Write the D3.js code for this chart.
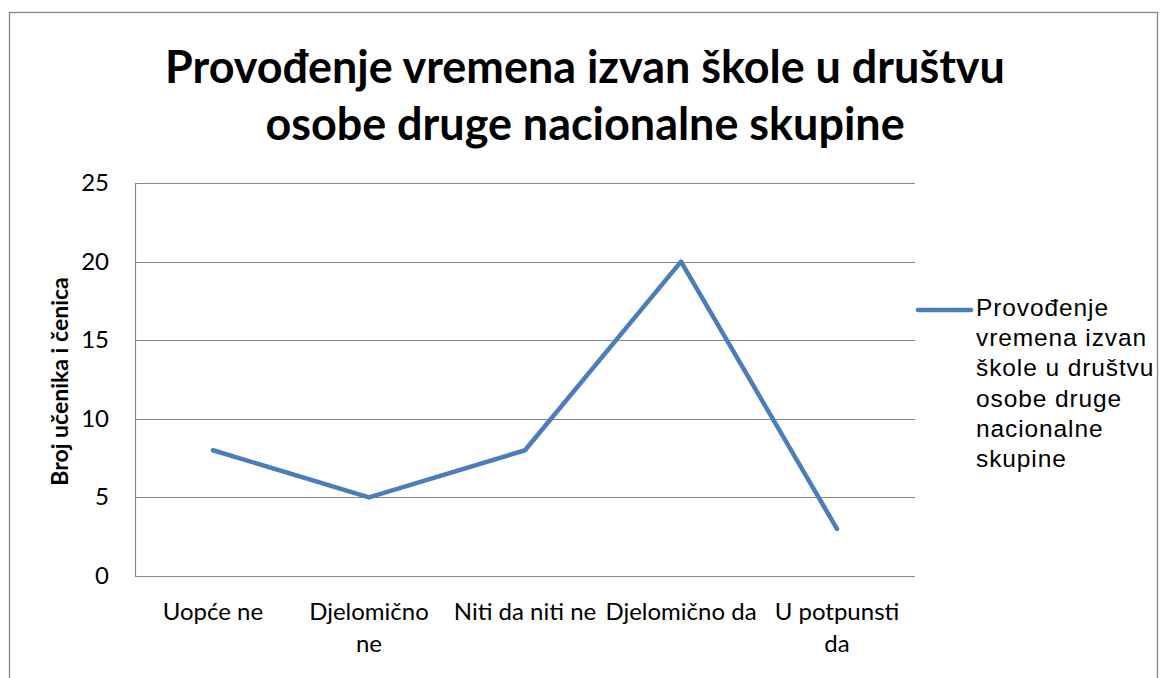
<!DOCTYPE html>
<html>
<head>
<meta charset="utf-8">
<script src="https://cdn.jsdelivr.net/npm/d3@7"></script>
<style>
  body { margin: 0; background: #fff; }
  .linesvg text { font-family: Lato, "Open Sans", sans-serif; }
  .linesvg text.legtext { font-family: "Liberation Sans", Arial, sans-serif; }
</style>
</head>
<body>
<svg class="linesvg"></svg>
<script>
const categories = ['Uopće ne', 'Djelomično ne', 'Niti da niti ne', 'Djelomično da', 'U potpunsti da'];
const xTickLines = [['Uopće ne'], ['Djelomično', 'ne'], ['Niti da niti ne'], ['Djelomično da'], ['U potpunsti', 'da']];
const values = [8, 5, 8, 20, 3];
const yTicks = [0, 5, 10, 15, 20, 25];
const titleLines = ['Provođenje vremena izvan škole u društvu', 'osobe druge nacionalne skupine'];
const seriesName = ['Provođenje', 'vremena izvan', 'škole u društvu', 'osobe druge', 'nacionalne', 'skupine'];
const yTitle = 'Broj učenika i čenica';

const dims = { width: 1163, height: 678 };
const plot = { left: 135, right: 915, top: 183, bottom: 576 };
const lineColor = '#4a7ebb';
const gridColor = '#868686';

const svg = d3.select('.linesvg')
  .attr('width', dims.width)
  .attr('height', dims.height);

// outer chart frame
svg.append('rect')
  .attr('x', 9.5).attr('y', 12.5)
  .attr('width', 1148).attr('height', 700)
  .attr('fill', 'none')
  .attr('stroke', gridColor)
  .attr('stroke-width', 1.3);

// title
const title = svg.append('g');
titleLines.forEach((t, i) => {
  title.append('text')
    .attr('x', 585)
    .attr('y', 83 + i * 57)
    .attr('text-anchor', 'middle')
    .attr('font-weight', 'bold')
    .attr('font-size', '44px')
    .attr('fill', '#000')
    .text(t);
});
// fit title width to ~840px
const tw = title.select('text').node().getComputedTextLength();
title.selectAll('text').attr('font-size', (44 * 840 / tw) + 'px');

const x = d3.scaleBand()
  .domain(categories)
  .range([plot.left, plot.right]);

const y = d3.scaleLinear()
  .domain([0, 25])
  .range([plot.bottom, plot.top]);

// gridlines
svg.append('g')
  .selectAll('line')
  .data(yTicks)
  .enter()
  .append('line')
  .attr('x1', plot.left).attr('x2', plot.right)
  .attr('y1', d => Math.round(y(d)) + 0.5)
  .attr('y2', d => Math.round(y(d)) + 0.5)
  .attr('stroke', gridColor)
  .attr('stroke-width', 1.2);

svg.append('line')
  .attr('x1', plot.left + 0.5).attr('x2', plot.left + 0.5)
  .attr('y1', plot.top).attr('y2', plot.bottom)
  .attr('stroke', gridColor)
  .attr('stroke-width', 1.2);

// y tick labels
svg.append('g')
  .selectAll('text')
  .data(yTicks)
  .enter()
  .append('text')
  .attr('x', 109)
  .attr('y', d => y(d) + 8)
  .attr('text-anchor', 'end')
  .attr('font-size', '24px')
  .attr('fill', '#000')
  .text(d => d);

// y axis title
svg.append('text')
  .attr('transform', `translate(68, ${(plot.top + plot.bottom) / 2 + 2}) rotate(-90)`)
  .attr('text-anchor', 'middle')
  .attr('font-weight', 'bold')
  .attr('font-size', '23px')
  .attr('fill', '#000')
  .text(yTitle);

// x tick labels
const xl = svg.append('g')
  .selectAll('text')
  .data(categories)
  .enter()
  .append('text')
  .attr('x', d => x(d) + x.bandwidth() / 2)
  .attr('y', 620)
  .attr('text-anchor', 'middle')
  .attr('font-size', '24px')
  .attr('fill', '#000');

xl.selectAll('tspan')
  .data((d, i) => xTickLines[i])
  .enter()
  .append('tspan')
  .attr('x', function () { return this.parentNode.getAttribute('x'); })
  .attr('dy', (d, i) => i === 0 ? 0 : 32)
  .text(d => d);

// series line
const line = d3.line()
  .x((d, i) => x(categories[i]) + x.bandwidth() / 2)
  .y(d => y(d));

svg.append('path')
  .datum(values)
  .attr('d', line)
  .attr('fill', 'none')
  .attr('stroke', lineColor)
  .attr('stroke-width', 4.5)
  .attr('stroke-linejoin', 'round')
  .attr('stroke-linecap', 'round');

// legend
const legendGroup = svg.append('g');
legendGroup.append('line')
  .attr('x1', 918).attr('x2', 971)
  .attr('y1', 310).attr('y2', 310)
  .attr('stroke', lineColor)
  .attr('stroke-width', 4.5)
  .attr('stroke-linecap', 'round');

legendGroup.append('text')
  .attr('class', 'legtext')
  .attr('x', 976)
  .attr('y', 316)
  .attr('font-size', '24.5px')
  .attr('letter-spacing', '0.9px')
  .attr('fill', '#000')
  .selectAll('tspan')
  .data(seriesName)
  .enter()
  .append('tspan')
  .attr('x', 976)
  .attr('dy', (d, i) => i === 0 ? 0 : 30.2)
  .text(d => d);
</script>
</body>
</html>
